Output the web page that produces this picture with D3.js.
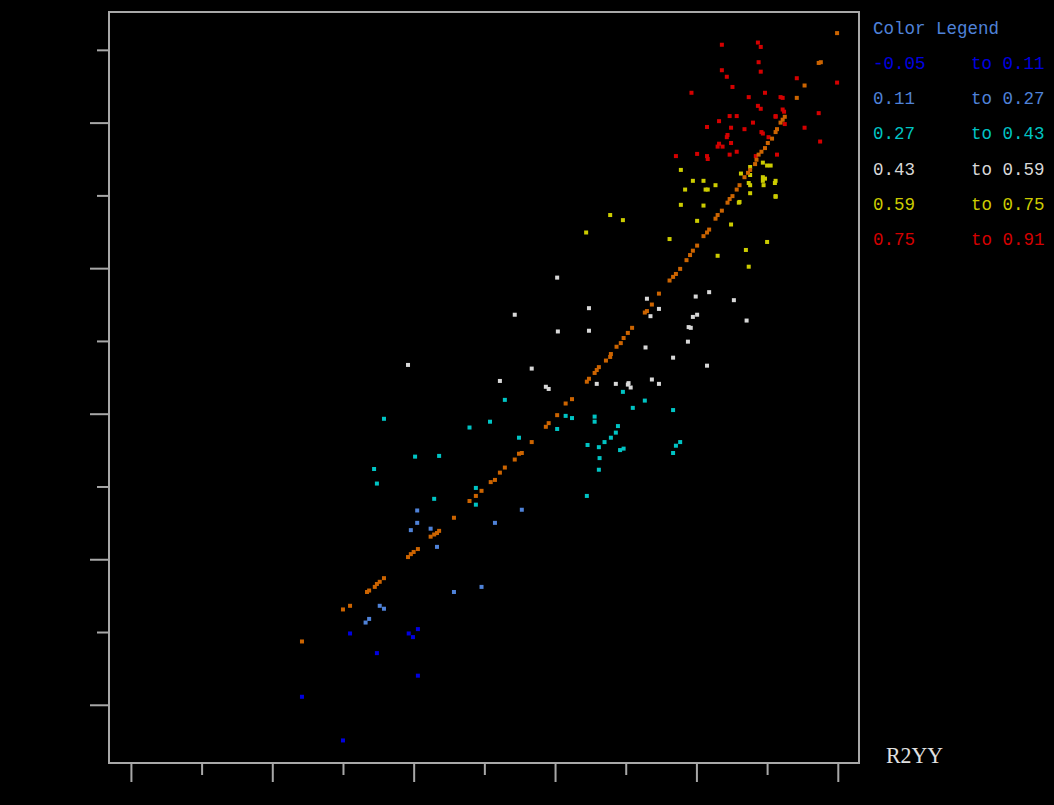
<!DOCTYPE html>
<html>
<head>
<meta charset="utf-8">
<script src="https://cdn.jsdelivr.net/npm/d3@7"></script>
<style>
  html, body { margin: 0; padding: 0; background: #000; }
  svg { display: block; }
</style>
</head>
<body>
<div id="chart"></div>
<script>
// color classes of the legend
const legendRanges = [
  ['-0.05', '0.11'],
  ['0.11', '0.27'],
  ['0.27', '0.43'],
  ['0.43', '0.59'],
  ['0.59', '0.75'],
  ['0.75', '0.91']
];
const legendColors = ['#0000e0', '#4f82d8', '#00c4c4', '#d8d8d8', '#cccc00', '#d40000'];

// tick values (no labels on the original)
const xTicks = d3.range(0, 11);
const yTicks = d3.range(0, 10);

// points per color class, [x, y]
const blue = [[3.10, 0.98], [3.48, 0.71], [3.93, 0.98], [3.99, 0.93], [4.06, 1.04], [4.06, 0.40], [2.42, 0.11], [3.00, -0.49]];
const lightBlue = [[4.33, 2.17], [4.57, 1.55], [4.96, 1.62], [3.52, 1.36], [3.58, 1.32], [3.37, 1.18], [3.32, 1.13],
  [4.05, 2.67], [4.05, 2.50], [3.96, 2.40], [4.24, 2.42], [5.53, 2.68], [5.15, 2.50]];
const cyan = [[5.29, 4.19], [3.58, 3.93], [5.08, 3.89], [4.79, 3.81], [6.03, 3.79], [5.49, 3.67], [4.02, 3.41], [4.36, 3.42],
  [3.44, 3.24], [3.48, 3.04], [4.88, 2.98], [4.29, 2.83], [4.88, 2.75], [6.96, 4.30], [7.27, 4.18], [7.10, 4.08],
  [7.67, 4.05], [6.15, 3.97], [6.24, 3.94], [6.56, 3.96], [6.56, 3.89], [6.89, 3.83], [6.86, 3.74], [6.79, 3.67],
  [6.70, 3.61], [7.77, 3.61], [7.71, 3.56], [6.46, 3.57], [6.62, 3.54], [6.92, 3.50], [6.97, 3.52], [7.67, 3.46],
  [6.63, 3.39], [6.62, 3.23], [6.45, 2.87]];
const white = [[3.92, 4.67], [5.67, 4.62], [5.22, 4.45], [5.87, 4.37], [5.91, 4.34], [6.59, 4.41], [6.86, 4.41],
  [7.04, 4.42], [7.03, 4.40], [7.07, 4.36], [7.37, 4.47], [7.47, 4.41], [8.15, 4.66], [7.67, 4.77], [6.03, 5.87],
  [5.43, 5.36], [6.48, 5.45], [6.04, 5.13], [6.48, 5.14], [7.30, 5.58], [7.47, 5.44], [7.35, 5.34], [7.28, 4.91],
  [8.18, 5.67], [7.99, 5.61], [8.53, 5.56], [8.01, 5.36], [7.95, 5.33], [8.71, 5.28], [7.89, 5.19], [7.92, 5.18],
  [7.88, 4.99]];
const yellow = [[6.78, 6.73], [6.96, 6.66], [6.44, 6.49], [7.62, 6.40], [7.78, 7.35], [7.95, 7.20], [8.10, 7.20],
  [8.27, 7.14], [7.84, 7.08], [8.13, 7.08], [8.16, 7.08], [7.78, 6.87], [8.10, 6.86], [8.01, 6.65], [8.49, 6.60],
  [8.30, 6.17], [8.70, 6.25], [9.00, 6.36], [8.74, 6.02], [8.63, 7.30], [8.76, 7.39], [8.76, 7.28], [8.74, 7.17],
  [8.76, 7.14], [8.76, 7.03], [8.60, 6.90], [8.61, 6.91], [8.94, 7.45], [9.00, 7.41], [9.05, 7.41], [8.94, 7.25],
  [8.97, 7.23], [8.94, 7.20], [8.95, 7.14], [9.12, 7.20], [9.11, 7.17], [9.12, 6.99], [9.12, 6.98]];
const red = [[8.36, 9.07], [8.87, 9.10], [8.91, 9.04], [8.88, 8.83], [8.36, 8.72], [8.91, 8.70], [8.43, 8.63],
  [9.42, 8.61], [9.99, 8.55], [7.93, 8.41], [8.51, 8.49], [8.74, 8.35], [8.97, 8.41], [9.19, 8.35], [9.22, 8.34],
  [8.87, 8.23], [8.91, 8.19], [9.22, 8.18], [9.24, 8.15], [9.12, 8.09], [9.12, 8.08], [9.73, 8.13], [8.47, 8.09],
  [8.57, 8.09], [8.32, 8.02], [8.80, 8.00], [8.15, 7.94], [8.49, 7.93], [8.68, 7.91], [9.25, 7.98], [9.53, 7.93],
  [8.92, 7.87], [8.94, 7.85], [8.44, 7.83], [8.43, 7.80], [9.02, 7.80], [9.75, 7.74], [8.32, 7.71], [8.30, 7.67],
  [8.37, 7.67], [8.49, 7.72], [8.01, 7.57], [8.15, 7.54], [8.16, 7.50], [8.47, 7.56], [8.57, 7.60], [7.71, 7.54],
  [8.84, 7.54], [9.14, 7.56]];
// diagonal (orange) points
const fitLine = [[2.42, 0.87], [3.00, 1.31], [3.10, 1.36], [3.34, 1.55], [3.37, 1.57], [3.45, 1.62], [3.48, 1.66],
  [3.52, 1.69], [3.58, 1.74], [3.92, 2.03], [3.96, 2.07], [4.00, 2.10], [4.06, 2.14], [4.24, 2.31], [4.29, 2.34],
  [4.33, 2.36], [4.36, 2.39], [4.57, 2.57], [4.79, 2.80], [4.88, 2.87], [4.96, 2.94], [5.09, 3.06], [5.15, 3.09],
  [5.22, 3.19], [5.29, 3.26], [5.43, 3.37], [5.49, 3.45], [5.53, 3.46], [5.67, 3.61], [5.87, 3.82], [5.91, 3.87],
  [6.03, 3.98], [6.15, 4.14], [6.24, 4.20], [6.45, 4.44], [6.48, 4.48], [6.56, 4.56], [6.59, 4.60], [6.62, 4.64],
  [6.72, 4.73], [6.78, 4.78], [6.79, 4.82], [6.87, 4.92], [6.93, 4.97], [6.97, 5.04], [7.03, 5.11], [7.09, 5.18],
  [7.27, 5.39], [7.30, 5.41], [7.37, 5.50], [7.47, 5.65], [7.62, 5.83], [7.67, 5.88], [7.71, 5.92], [7.77, 5.99],
  [7.86, 6.11], [7.91, 6.18], [7.95, 6.24], [8.01, 6.31], [8.10, 6.44], [8.15, 6.49], [8.18, 6.53], [8.27, 6.68],
  [8.30, 6.73], [8.36, 6.79], [8.44, 6.90], [8.47, 6.95], [8.51, 6.99], [8.57, 7.08], [8.61, 7.14], [8.68, 7.25],
  [8.73, 7.31], [8.76, 7.35], [8.83, 7.43], [8.85, 7.49], [8.88, 7.56], [8.92, 7.60], [8.97, 7.65], [9.01, 7.72],
  [9.07, 7.78], [9.12, 7.87], [9.14, 7.91], [9.19, 8.00], [9.22, 8.04], [9.25, 8.08], [9.42, 8.34], [9.53, 8.51],
  [9.73, 8.82], [9.76, 8.83], [9.99, 9.23]];
const fitColor = '#cc6400';

const groups = [blue, lightBlue, cyan, white, yellow, red];

const width = 1054, height = 805;
const frame = { left: 109, right: 859, top: 12, bottom: 763 };

const svg = d3.select('#chart').append('svg')
  .attr('width', width)
  .attr('height', height)
  .style('background', '#000');

const x = d3.scaleLinear().domain([-0.31, 10.3]).range([frame.left, frame.right]);
const y = d3.scaleLinear().domain([-0.8, 9.52]).range([frame.bottom, frame.top]);

// frame
svg.append('rect')
  .attr('x', frame.left)
  .attr('y', frame.top)
  .attr('width', frame.right - frame.left)
  .attr('height', frame.bottom - frame.top)
  .attr('fill', 'none')
  .attr('stroke', '#a8a8a8')
  .attr('stroke-width', 2);

// axes: ticks only, alternating long / short
const xAxis = svg.append('g')
  .attr('transform', `translate(0,${frame.bottom + 1})`)
  .call(d3.axisBottom(x).tickValues(xTicks).tickFormat('').tickSizeOuter(0).tickSize(18));
xAxis.select('.domain').remove();
xAxis.selectAll('.tick line')
  .attr('stroke', '#a8a8a8')
  .attr('stroke-width', 2)
  .attr('y2', d => d % 2 === 0 ? 18 : 11);

const yAxis = svg.append('g')
  .attr('transform', `translate(${frame.left - 1},0)`)
  .call(d3.axisLeft(y).tickValues(yTicks).tickFormat('').tickSizeOuter(0).tickSize(18));
yAxis.select('.domain').remove();
yAxis.selectAll('.tick line')
  .attr('stroke', '#a8a8a8')
  .attr('stroke-width', 2)
  .attr('x2', d => d % 2 === 0 ? -18 : -11);

// points
const size = 4;
groups.forEach((pts, i) => {
  svg.append('g').selectAll('rect')
    .data(pts)
    .join('rect')
      .attr('x', d => x(d[0]) - size / 2)
      .attr('y', d => y(d[1]) - size / 2)
      .attr('width', size)
      .attr('height', size)
      .attr('fill', legendColors[i]);
});

svg.append('g').selectAll('rect')
  .data(fitLine)
  .join('rect')
    .attr('x', d => x(d[0]) - size / 2)
    .attr('y', d => y(d[1]) - size / 2)
    .attr('width', size)
    .attr('height', size)
    .attr('fill', fitColor);

// legend
const legend = svg.append('g')
  .style('font-family', '"Liberation Mono", "DejaVu Sans Mono", monospace')
  .style('font-size', '17.5px');

legend.append('text')
  .attr('x', 873)
  .attr('y', 29)
  .attr('dominant-baseline', 'central')
  .attr('fill', legendColors[1])
  .text('Color Legend');

legendRanges.forEach((r, i) => {
  const cy = 64 + i * 35.2;
  legend.append('text')
    .attr('x', 873)
    .attr('y', cy)
    .attr('dominant-baseline', 'central')
    .attr('fill', legendColors[i])
    .text(r[0]);
  legend.append('text')
    .attr('x', 971)
    .attr('y', cy)
    .attr('dominant-baseline', 'central')
    .attr('fill', legendColors[i])
    .text('to ' + r[1]);
});

// variable name
svg.append('text')
  .attr('x', 886)
  .attr('y', 763)
  .attr('fill', '#e0e0e0')
  .style('font-family', '"Liberation Serif", "DejaVu Serif", serif')
  .style('font-size', '23px')
  .attr('textLength', 57)
  .attr('lengthAdjust', 'spacingAndGlyphs')
  .text('R2YY');
</script>
</body>
</html>
